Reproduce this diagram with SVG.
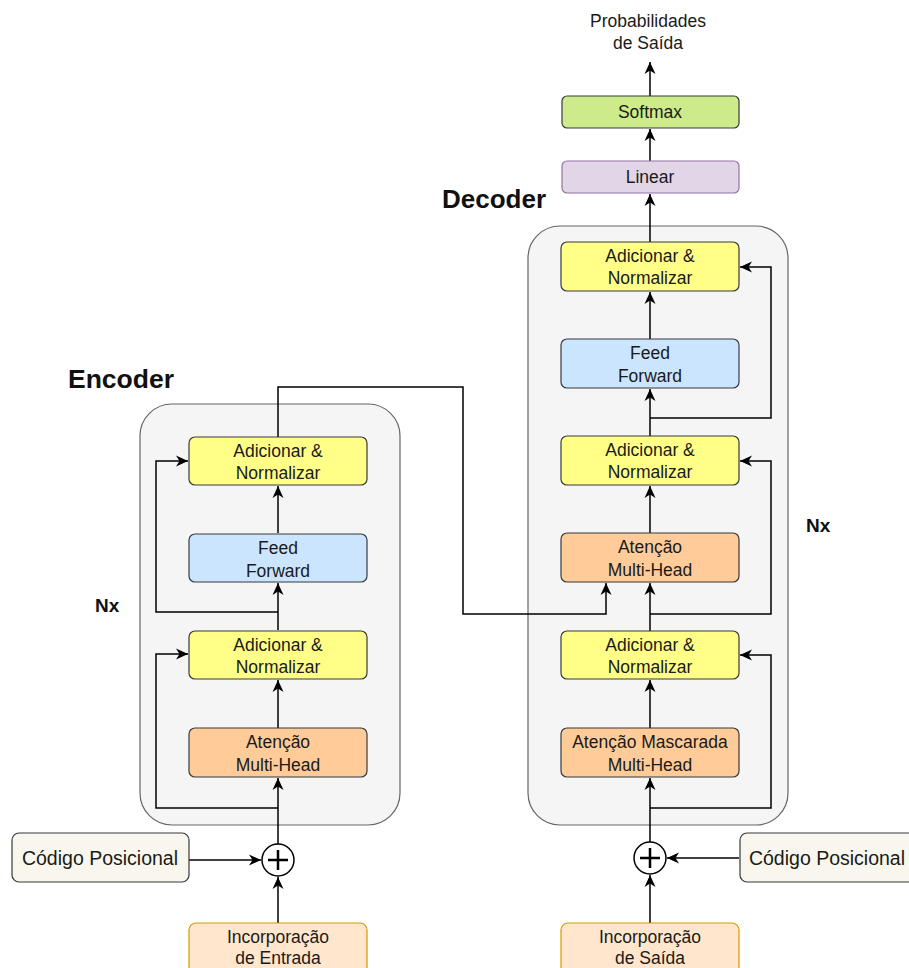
<svg xmlns="http://www.w3.org/2000/svg" width="909" height="968" viewBox="0 0 909 968">
<defs>
<marker id="arr" markerUnits="userSpaceOnUse" markerWidth="14" markerHeight="14" viewBox="0 0 14 14" refX="13" refY="7" orient="auto">
<path d="M1,1.5 L13,7 L1,12.5 L4.5,7 z" fill="#000"/>
</marker>
<style>
.t{font-family:"Liberation Sans",Arial,sans-serif;font-size:17.5px;fill:#1a1a1a;text-anchor:middle}
.p{font-size:19.5px}
.b{font-family:"Liberation Sans",Arial,sans-serif;font-weight:bold;fill:#111}
.c{fill:none;stroke:#000;stroke-width:1.5}
.a{marker-end:url(#arr)}
.box{stroke:#36393d;stroke-width:1.2}
.cont{fill:#f5f5f5;stroke:#666;stroke-width:1.2}
.yel{fill:#ffff88}
.blu{fill:#cce5ff}
.ora{fill:#ffcc99}
</style>
</defs>
<rect fill="#fff" width="909" height="968"/>
<g id="encoder-container"><rect class="cont" x="140" y="404" width="260" height="421" rx="32"/></g>
<g id="decoder-container"><rect class="cont" x="528" y="226" width="260" height="599" rx="32"/></g>
<g id="labels">
<text class="b" x="68" y="388" font-size="26.5">Encoder</text>
<text class="b" x="442" y="208" font-size="26">Decoder</text>
<text class="b" x="95" y="612" font-size="19">Nx</text>
<text class="b" x="806" y="532" font-size="19">Nx</text>
<text class="t" x="648" y="27">Probabilidades</text>
<text class="t" x="648" y="49">de Saída</text>
</g>
<g id="connectors">
<path class="c a" d="M278,923 L278,877"/>
<path class="c a" d="M189,860 L261,860"/>
<path class="c a" d="M278,844 L278,778"/>
<path class="c a" d="M278,728 L278,680"/>
<path class="c a" d="M278,630 L278,583"/>
<path class="c a" d="M278,533 L278,486"/>
<path class="c a" d="M278,808 L156,808 L156,654 L188,654"/>
<path class="c a" d="M278,612 L156,612 L156,461 L188,461"/>
<path class="c a" d="M278,437 L278,387 L463,387 L463,614 L606,614 L606,583"/>
<path class="c a" d="M650,923 L650,875"/>
<path class="c a" d="M739,858 L667,858"/>
<path class="c a" d="M650,842 L650,778"/>
<path class="c a" d="M650,728 L650,680"/>
<path class="c a" d="M650,631 L650,583"/>
<path class="c a" d="M650,533 L650,486"/>
<path class="c a" d="M650,436 L650,389"/>
<path class="c a" d="M650,339 L650,292"/>
<path class="c a" d="M650,242 L650,194"/>
<path class="c a" d="M650,161 L650,129"/>
<path class="c a" d="M650,96 L650,62"/>
<path class="c a" d="M650,808 L771,808 L771,655 L740,655"/>
<path class="c a" d="M650,614 L771,614 L771,461 L740,461"/>
<path class="c a" d="M650,418 L771,418 L771,267 L740,267"/>
</g>
<g id="enc-add2"><rect class="box yel" x="189" y="437" width="178" height="48" rx="6"/><text class="t" x="278" y="457">Adicionar &amp;</text><text class="t" x="278" y="479">Normalizar</text></g>
<g id="enc-ff"><rect class="box blu" x="189" y="534" width="178" height="48" rx="6"/><text class="t" x="278" y="554">Feed</text><text class="t" x="278" y="577">Forward</text></g>
<g id="enc-add1"><rect class="box yel" x="189" y="631" width="178" height="48" rx="6"/><text class="t" x="278" y="651">Adicionar &amp;</text><text class="t" x="278" y="673">Normalizar</text></g>
<g id="enc-att"><rect class="box ora" x="189" y="728" width="178" height="49" rx="6"/><text class="t" x="278" y="748">Atenção</text><text class="t" x="278" y="771">Multi-Head</text></g>
<g id="dec-add3"><rect class="box yel" x="561" y="242" width="178" height="49" rx="6"/><text class="t" x="650" y="262">Adicionar &amp;</text><text class="t" x="650" y="284">Normalizar</text></g>
<g id="dec-ff"><rect class="box blu" x="561" y="339" width="178" height="49" rx="6"/><text class="t" x="650" y="359">Feed</text><text class="t" x="650" y="382">Forward</text></g>
<g id="dec-add2"><rect class="box yel" x="561" y="436" width="178" height="49" rx="6"/><text class="t" x="650" y="456">Adicionar &amp;</text><text class="t" x="650" y="478">Normalizar</text></g>
<g id="dec-att"><rect class="box ora" x="561" y="533" width="178" height="49" rx="6"/><text class="t" x="650" y="553">Atenção</text><text class="t" x="650" y="576">Multi-Head</text></g>
<g id="dec-add1"><rect class="box yel" x="561" y="631" width="178" height="48" rx="6"/><text class="t" x="650" y="651">Adicionar &amp;</text><text class="t" x="650" y="673">Normalizar</text></g>
<g id="dec-matt"><rect class="box ora" x="561" y="728" width="178" height="49" rx="6"/><text class="t" x="650" y="748">Atenção Mascarada</text><text class="t" x="650" y="771">Multi-Head</text></g>
<g id="linear"><rect x="562" y="161" width="177" height="32" rx="5" fill="#e1d5e7" stroke="#9673a6" stroke-width="1.2"/><text class="t" x="650" y="183">Linear</text></g>
<g id="softmax"><rect class="box" x="562" y="96" width="177" height="32" rx="5" fill="#cdeb8b"/><text class="t" x="650" y="118">Softmax</text></g>
<g id="enc-pos"><rect class="box" x="12" y="833" width="177" height="49" rx="7" fill="#f9f7ed"/><text class="t p" x="100" y="865">Código Posicional</text></g>
<g id="dec-pos"><rect class="box" x="740" y="833" width="178" height="49" rx="7" fill="#f9f7ed"/><text class="t p" x="827" y="865">Código Posicional</text></g>
<g id="enc-sum"><circle cx="278" cy="860" r="16" fill="#fff" stroke="#000" stroke-width="1.5"/><path d="M268,860 H288 M278,850 V870" stroke="#000" stroke-width="2.5"/></g>
<g id="dec-sum"><circle cx="650" cy="858" r="16" fill="#fff" stroke="#000" stroke-width="1.5"/><path d="M640,858 H660 M650,848 V868" stroke="#000" stroke-width="2.5"/></g>
<g id="enc-emb"><rect x="189" y="923" width="178" height="60" rx="7" fill="#ffe6cc" stroke="#d79b00" stroke-width="1.2"/><text class="t" x="278" y="943">Incorporação</text><text class="t" x="278" y="964">de Entrada</text></g>
<g id="dec-emb"><rect x="561" y="923" width="178" height="60" rx="7" fill="#ffe6cc" stroke="#d79b00" stroke-width="1.2"/><text class="t" x="650" y="943">Incorporação</text><text class="t" x="650" y="964">de Saída</text></g>
</svg>
